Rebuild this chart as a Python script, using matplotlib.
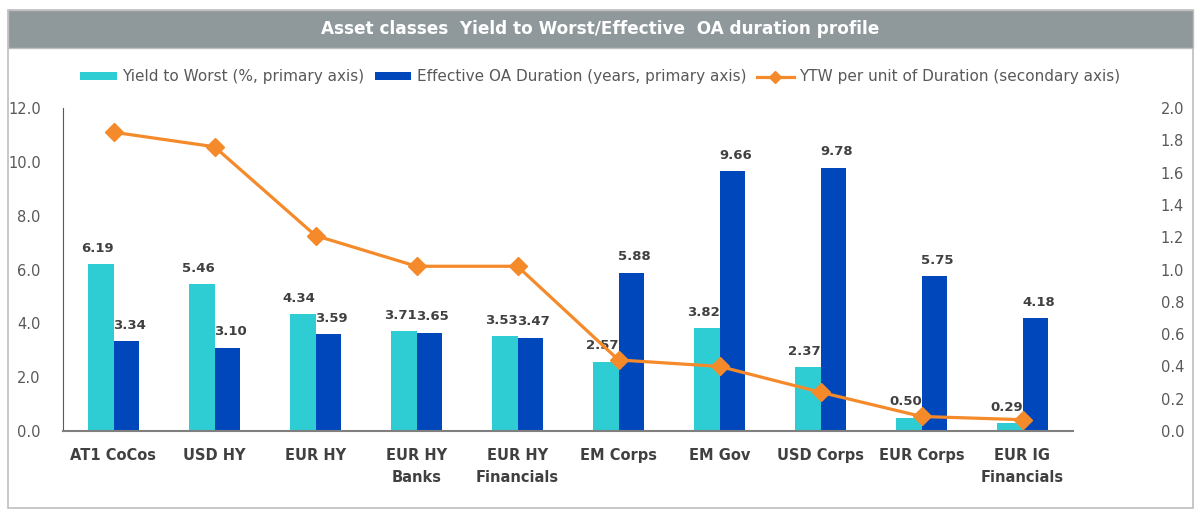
import matplotlib
matplotlib.use('Agg')
from matplotlib import pyplot as plt
from matplotlib.patches import Rectangle
import numpy as np

categories = ['AT1 CoCos', 'USD HY', 'EUR HY', 'EUR HY\nBanks', 'EUR HY\nFinancials',
              'EM Corps', 'EM Gov', 'USD Corps', 'EUR Corps', 'EUR IG\nFinancials']
ytw = [6.19, 5.46, 4.34, 3.71, 3.53, 2.57, 3.82, 2.37, 0.50, 0.29]
duration = [3.34, 3.10, 3.59, 3.65, 3.47, 5.88, 9.66, 9.78, 5.75, 4.18]
ytw_per_dur = [1.85, 1.76, 1.21, 1.02, 1.02, 0.44, 0.40, 0.24, 0.09, 0.07]

cyan = '#2ECDD4'
blue = '#0047BB'
orange = '#F58A2A'
grey_txt = '#595959'
dark_txt = '#404040'

plt.rcParams['font.family'] = ['DejaVu Sans']

fig = plt.figure(figsize=(12, 5.18), dpi=100)
W, H = 1200, 518

# frame and title bar
fig.patches.append(Rectangle((8 / W, 1 - 508 / H), 1185 / W, 498 / H, transform=fig.transFigure,
                             facecolor='none', edgecolor='#BFBFBF', lw=1.2))
fig.patches.append(Rectangle((8 / W, 1 - 48 / H), 1185 / W, 38 / H, transform=fig.transFigure,
                             facecolor='#8F999C', edgecolor='#BFBFBF', lw=1.0))
fig.text(0.5, 1 - 29 / H, 'Asset classes  Yield to Worst/Effective  OA duration profile',
         color='white', fontsize=12.2, fontweight='bold', ha='center', va='center')

ax = fig.add_axes([63 / W, 1 - 431 / H, 1010 / W, 323 / H])
ax2 = ax.twinx()

x = np.arange(len(categories))
w = 0.25
b1 = ax.bar(x - w / 2, ytw, w, color=cyan, label='Yield to Worst (%, primary axis)')
b2 = ax.bar(x + w / 2, duration, w, color=blue, label='Effective OA Duration (years, primary axis)')
for bars, vals, dx in ((b1, ytw, -0.035), (b2, duration, 0.035)):
    for r, v in zip(bars, vals):
        ax.text(r.get_x() + r.get_width() / 2 + dx, v + 0.35, f'{v:.2f}', ha='center', va='bottom',
                fontsize=9.5, fontweight='bold', color=dark_txt)

ln, = ax2.plot(x, ytw_per_dur, color=orange, lw=2.3, marker='D', markersize=9,
               label='YTW per unit of Duration (secondary axis)')

ax.set_xlim(-0.5, len(categories) - 0.5)
ax.set_ylim(0, 12)
ax.set_yticks(np.arange(0, 12.1, 2))
ax.set_yticklabels([f'{t:.1f}' for t in np.arange(0, 12.1, 2)])
ax2.set_ylim(0, 2)
ax2.set_yticks(np.arange(0, 2.01, 0.2))
ax2.set_yticklabels([f'{t:.1f}' for t in np.arange(0, 2.01, 0.2)])

ax.set_xticks(x)
ax.set_xticklabels(categories, fontsize=10.5, fontweight='bold', color=dark_txt, linespacing=1.6)
ax.tick_params(axis='x', length=0, pad=12)
ax.tick_params(axis='y', length=0, labelsize=10.5, labelcolor=grey_txt, pad=16)
ax2.tick_params(axis='y', length=0, labelsize=10.5, labelcolor=grey_txt, pad=80)
for t in ax2.get_yticklabels():
    t.set_ha('right')

for a in (ax, ax2):
    for s in ('top', 'right'):
        a.spines[s].set_visible(False)
ax2.spines['left'].set_visible(False)
ax2.spines['bottom'].set_visible(False)
ax.spines['left'].set_color('#595959')
ax.spines['bottom'].set_color('#7F7F7F')
ax.spines['bottom'].set_linewidth(1.5)

fig.legend(handles=[b1, b2, ln], loc='center', bbox_to_anchor=(0.5, 1 - 77 / H), ncol=3,
           frameon=False, fontsize=11, labelcolor=grey_txt, handlelength=2.4,
           handleheight=0.45, handletextpad=0.35, columnspacing=0.7, markerscale=0.7)

fig.savefig('out.png', dpi=100)
